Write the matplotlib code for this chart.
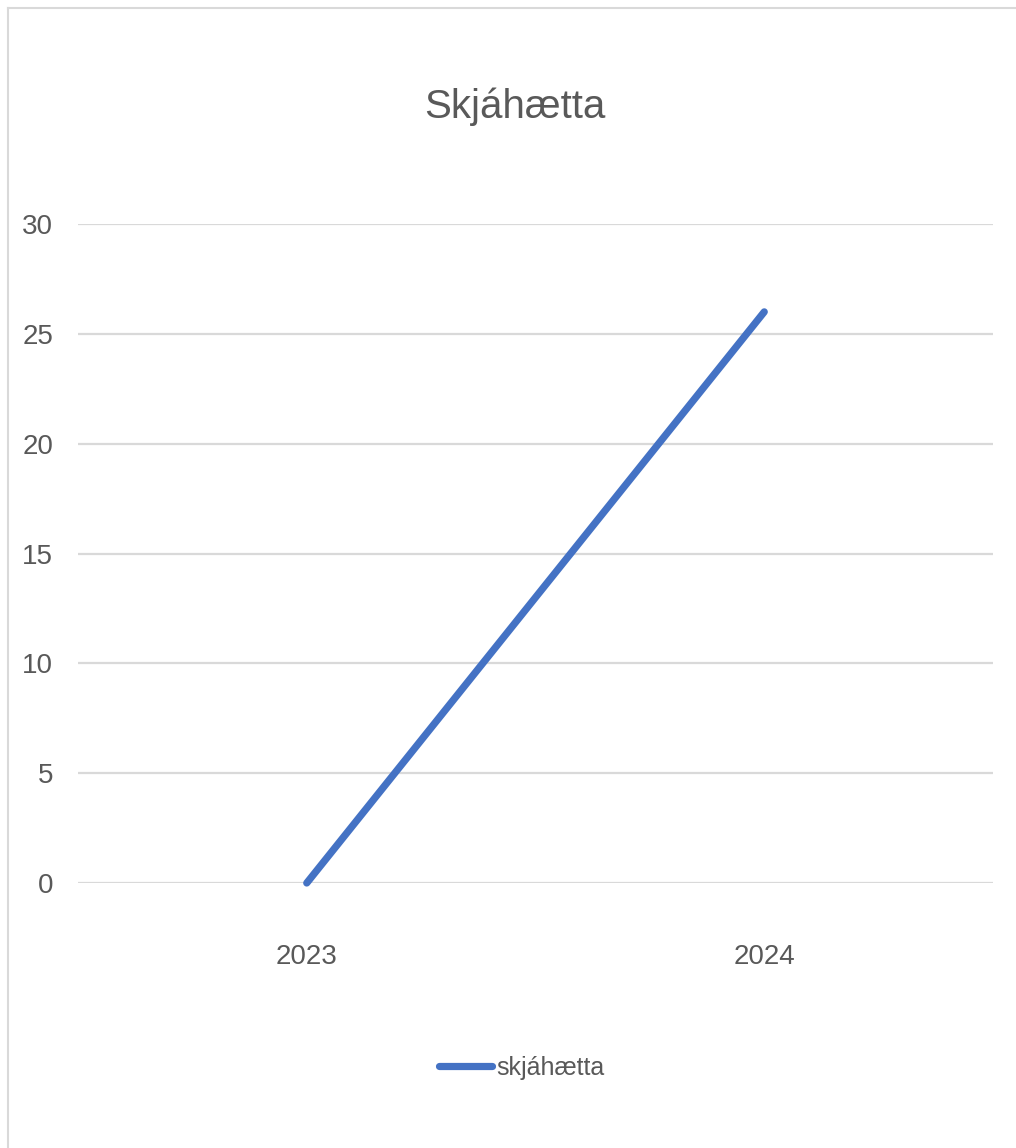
import matplotlib
matplotlib.use('Agg')
import matplotlib.pyplot as plt
from matplotlib.lines import Line2D

# gögn
ar = ['2023', '2024']
skjahaetta = [0, 26]
y_ticks = [0, 5, 10, 15, 20, 25, 30]

plt.rcParams['font.family'] = ['Liberation Sans Narrow', 'Liberation Sans', 'DejaVu Sans']

fig = plt.figure(figsize=(10.16, 11.48), dpi=100)
W, H = 1016, 1148
ax = fig.add_axes([78 / W, 1 - 883 / H, (993 - 78) / W, (883 - 224) / H])

x = list(range(len(ar)))
ax.plot(x, skjahaetta, color='#4472C4', linewidth=5.2, solid_capstyle='round',
        clip_on=False, zorder=3, label='skjáhætta')

ax.set_xlim(-0.5, len(ar) - 0.5)
ax.set_ylim(0, 30)
ax.set_yticks(y_ticks)
ax.set_xticks(x)
ax.set_xticklabels(ar)
ax.grid(axis='y', color='#d9d9d9', linewidth=1.6)
ax.set_axisbelow(True)
for s in ax.spines.values():
    s.set_visible(False)
ax.tick_params(axis='both', length=0, labelsize=20, colors='#595959')
ax.tick_params(axis='y', pad=18)
ax.tick_params(axis='x', pad=44)

fig.text(515 / W, 1 - 107 / H, 'Skjáhætta', ha='center', va='center',
         fontsize=29, color='#595959')

# ramma
fig.add_artist(Line2D([8 / W, 8 / W], [0, 1 - 8 / H], color='#d9d9d9', linewidth=1.5))
fig.add_artist(Line2D([8 / W, 1], [1 - 8 / H, 1 - 8 / H], color='#d9d9d9', linewidth=1.5))

leg = fig.legend(loc='center', bbox_to_anchor=(522 / W, 1 - 1068 / H), frameon=False,
                 fontsize=18, handlelength=2.1, handletextpad=0.2, labelcolor='#595959')

fig.savefig('out.png', dpi=100)
